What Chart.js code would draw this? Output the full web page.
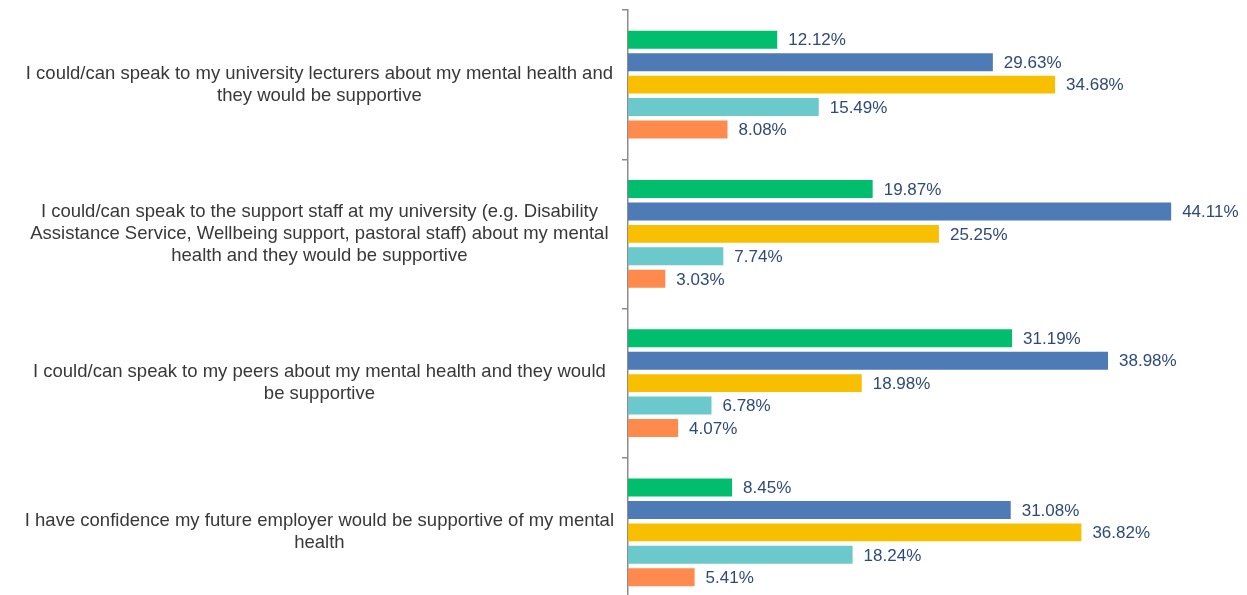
<!DOCTYPE html>
<html>
<head>
<meta charset="utf-8">
<script src="https://cdn.jsdelivr.net/npm/chart.js@4/dist/chart.umd.min.js"></script>
<style>
  html, body { margin: 0; padding: 0; background: #fff; overflow: hidden; }
  #wrap { width: 1247px; height: 612px; position: relative; }
</style>
</head>
<body>
<div id="wrap"><canvas id="supportCht"></canvas></div>
<script>
// statements, one per row (each entry is a list of wrapped lines)
const statements = [
    ['I could/can speak to my university lecturers about my mental health and', 'they would be supportive'],
    ['I could/can speak to the support staff at my university (e.g. Disability', 'Assistance Service, Wellbeing support, pastoral staff) about my mental', 'health and they would be supportive'],
    ['I could/can speak to my peers about my mental health and they would', 'be supportive'],
    ['I have confidence my future employer would be supportive of my mental', 'health']
];

// response shares in percent, per statement
const stronglyAgree    = [12.12, 19.87, 31.19, 8.45];
const agree            = [29.63, 44.11, 38.98, 31.08];
const neither          = [34.68, 25.25, 18.98, 36.82];
const disagree         = [15.49, 7.74, 6.78, 18.24];
const stronglyDisagree = [8.08, 3.03, 4.07, 5.41];

const seriesNames  = ['Strongly agree', 'Agree', 'Neither agree nor disagree', 'Disagree', 'Strongly disagree'];
const seriesColors = ['#00be6e', '#4e7ab5', '#f8be00', '#6bc8cb', '#fe8a4e'];

const font = '"Liberation Sans", Arial, sans-serif';

// writes the percentage just past the end of each bar
const valueLabels = {
    id: 'valueLabels',
    afterDatasetsDraw(chart) {
        const ctx = chart.ctx;
        ctx.save();
        ctx.font = '17px ' + font;
        ctx.fillStyle = '#2e4a7b';
        ctx.textAlign = 'left';
        ctx.textBaseline = 'middle';
        chart.data.datasets.forEach(function(ds, i) {
            chart.getDatasetMeta(i).data.forEach(function(bar, j) {
                ctx.fillText(ds.data[j].toFixed(2) + '%', bar.x + 11, bar.y + 1);
            });
        });
        ctx.restore();
    }
};

const values = [stronglyAgree, agree, neither, disagree, stronglyDisagree];

var ctx = document.getElementById('supportCht');
var supportChart = new Chart(ctx, {
    type: 'bar',
    data: {
        labels: statements,
        datasets: values.map(function(vals, i) {
            return {
                label: seriesNames[i],
                data: vals,
                backgroundColor: seriesColors[i],
                categoryPercentage: 0.753,
                barPercentage: 0.8
            };
        })
    },
    options: {
        indexAxis: 'y',
        responsive: true,
        maintainAspectRatio: false,
        animation: false,
        layout: { padding: { top: 10, right: 7, bottom: 5, left: 0 } },
        plugins: {
            legend: { display: false },
            tooltip: { enabled: false }
        },
        scales: {
            x: {
                display: false,
                min: 0,
                max: 49.7
            },
            y: {
                afterFit: function(scale) {
                    scale.width = 628;
                    // keep the long labels from pushing the plot inwards
                    scale.paddingTop = 0;
                    scale.paddingBottom = 0;
                },
                grid: {
                    offset: true,
                    drawOnChartArea: false,
                    drawTicks: true,
                    tickLength: 6,
                    color: '#8c8c8c',
                    lineWidth: 1.5
                },
                border: { display: true, color: '#8c8c8c', width: 1.5 },
                ticks: {
                    crossAlign: 'center',
                    padding: 8,
                    color: '#383838',
                    font: { family: font, size: 18.5, lineHeight: 1.19 }
                }
            }
        }
    },
    plugins: [valueLabels]
});
</script>
</body>
</html>
